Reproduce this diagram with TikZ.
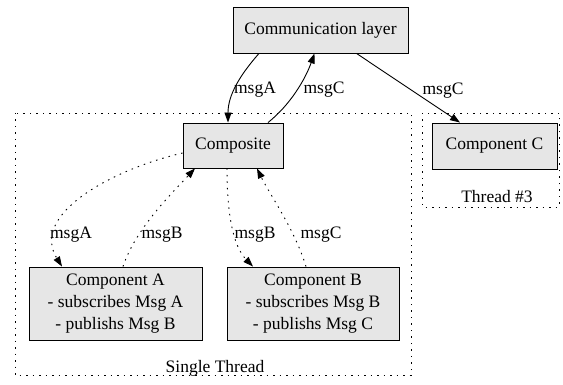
\documentclass[tikz,border=0pt]{standalone}
\usepackage{fontspec}
\setmainfont{Liberation Serif}
\usetikzlibrary{arrows.meta}
\definecolor{boxfill}{HTML}{E6E6E6}
\begin{document}
\begin{tikzpicture}[x=1pt,y=-1pt,
  font=\fontsize{17.5}{22}\selectfont,
  box/.style={draw,fill=boxfill,line width=0.9pt,inner sep=0pt,align=center},
  lbl/.style={inner sep=0pt,anchor=center},
  cluster/.style={line width=0.9pt,dash pattern=on 1.5pt off 5pt},
  edge/.style={line width=0.9pt,-{Triangle[length=10pt,width=7pt]}},
  dedge/.style={edge,dash pattern=on 1.5pt off 5pt}]
\useasboundingbox (0,0) rectangle (563,385);
% clusters
\draw[cluster] (15,113) rectangle (411,375);
\draw[cluster] (422,113) rectangle (559,207);
\node[lbl] (st) at (215,368) {Single Thread};
\node[lbl] (t3) at (497,197) {Thread \#3};
% nodes
\node[box,minimum width=175pt,minimum height=46pt] (comm) at (320.5,30) {Communication layer};
\node[box,minimum width=100pt,minimum height=45pt] (comp) at (233,145.5) {Composite};
\node[box,minimum width=125pt,minimum height=46pt] (cc) at (494.5,146) {Component C};
\node[box,minimum width=173pt,minimum height=73pt] (ca) at (115.5,303.5) {Component A\\- subscribes Msg A\\- publishs Msg B};
\node[box,minimum width=172pt,minimum height=73pt] (cb) at (313,303.5) {Component B\\- subscribes Msg B\\- publishs Msg C};
% edges
\draw[edge] ([xshift=-61.5pt]comm.south) .. controls (240,75) and (228,95) .. ([xshift=-5pt]comp.north);
\draw[edge] ([xshift=35pt]comp.north) .. controls (290,105) and (305,80) .. ([xshift=-6pt]comm.south);
\draw[edge] ([xshift=36pt]comm.south) -- ([xshift=-34.5pt]cc.north);
\draw[dedge] ([yshift=-7.5pt]comp.west) .. controls (110,170) and (30,215) .. ([xshift=-53.5pt]ca.north);
\draw[dedge] ([xshift=7.5pt]ca.north) .. controls (135,230) and (170,195) .. ([xshift=-38pt]comp.south);
\draw[dedge] ([xshift=-6pt]comp.south) .. controls (227,210) and (232,245) .. ([xshift=-60pt]cb.north);
\draw[dedge] ([xshift=-7pt]cb.north) .. controls (295,230) and (270,195) .. ([xshift=24pt]comp.south);
% edge labels
\node[lbl] (la1) at (255,90) {msgA};
\node[lbl] (lc1) at (324,90) {msgC};
\node[lbl] (lc2) at (443,91) {msgC};
\node[lbl] (la2) at (71,235) {msgA};
\node[lbl] (lb1) at (162,235) {msgB};
\node[lbl] (lb2) at (255,235) {msgB};
\node[lbl] (lc3) at (321,235) {msgC};
\end{tikzpicture}
\end{document}
